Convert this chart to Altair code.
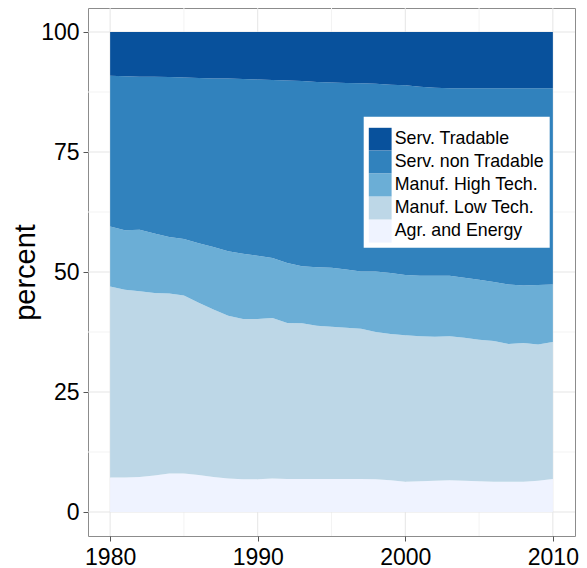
import altair as alt
import pandas as pd

years = list(range(1980, 2011))

agr = [7.2, 7.2, 7.3, 7.6, 8.0, 8.0, 7.7, 7.3, 7.0, 6.8, 6.8, 7.0, 6.9, 6.9, 6.9, 6.9,
       6.9, 6.9, 6.8, 6.6, 6.3, 6.4, 6.5, 6.6, 6.5, 6.4, 6.3, 6.3, 6.3, 6.5, 6.9]
low_tech = [39.8, 39.1, 38.7, 38.0, 37.5, 37.1, 35.9, 34.9, 33.9, 33.4, 33.4, 33.4, 32.5, 32.4, 31.9, 31.7,
            31.5, 31.3, 30.7, 30.5, 30.5, 30.2, 30.0, 30.0, 29.8, 29.5, 29.3, 28.7, 28.9, 28.4, 28.5]
high_tech = [12.5, 12.4, 12.8, 12.4, 11.8, 11.8, 12.4, 13.0, 13.4, 13.6, 13.2, 12.5, 12.5, 11.9, 12.2, 12.3,
             12.1, 11.9, 12.6, 12.7, 12.6, 12.6, 12.7, 12.6, 12.5, 12.5, 12.3, 12.4, 12.0, 12.4, 12.0]
serv_non_trad = [31.4, 32.1, 31.9, 32.7, 33.3, 33.6, 34.4, 35.1, 36.0, 36.4, 36.7, 37.1, 38.0, 38.6, 38.6, 38.6,
                 38.9, 39.2, 39.1, 39.2, 39.5, 39.4, 39.2, 39.1, 39.5, 39.9, 40.4, 40.9, 41.1, 41.0, 40.9]
serv_trad = [9.1, 9.2, 9.3, 9.3, 9.4, 9.5, 9.6, 9.7, 9.7, 9.8, 9.9, 10.0, 10.1, 10.2, 10.4, 10.5,
             10.6, 10.7, 10.8, 11.0, 11.1, 11.4, 11.6, 11.7, 11.7, 11.7, 11.7, 11.7, 11.7, 11.7, 11.7]

sectors = ["Serv. Tradable", "Serv. non Tradable", "Manuf. High Tech.", "Manuf. Low Tech.", "Agr. and Energy"]
colors = ["#08519c", "#3182bd", "#6baed6", "#bdd7e7", "#eff3ff"]

x_major = [1980, 1990, 2000, 2010]
x_minor = [1985, 1995, 2005]
y_major = [0, 25, 50, 75, 100]
y_minor = [12.5, 37.5, 62.5, 87.5]

series = {
    "Agr. and Energy": agr,
    "Manuf. Low Tech.": low_tech,
    "Manuf. High Tech.": high_tech,
    "Serv. non Tradable": serv_non_trad,
    "Serv. Tradable": serv_trad,
}
rows = []
for rank, (name, vals) in enumerate(series.items()):
    for yr, v in zip(years, vals):
        rows.append({"year": yr, "sector": name, "value": v, "rank": rank})
df = pd.DataFrame(rows)

FONT = "Liberation Sans"
xscale = alt.Scale(domain=[1978.5, 2011.5], nice=False, zero=False)
yscale = alt.Scale(domain=[-5, 105], nice=False, zero=False)

x_axis = alt.Axis(values=x_major, format="d", title=None, grid=False, domain=False,
                  tickColor="#555555", tickSize=5, labelPadding=5,
                  labelFontSize=23, labelFont=FONT, labelColor="black")
y_axis = alt.Axis(values=y_major, title="percent", grid=False, domain=False,
                  tickColor="#555555", tickSize=5, labelPadding=4,
                  labelFontSize=23, labelFont=FONT, labelColor="black",
                  titleFontSize=29, titleFont=FONT, titleFontWeight="normal",
                  titleColor="black", titlePadding=0)

def vgrid(vals, color):
    return alt.Chart(pd.DataFrame({"g": vals})).mark_rule(color=color, strokeWidth=1).encode(
        x=alt.X("g:Q", scale=xscale, axis=x_axis, title=None))

def hgrid(vals, color):
    return alt.Chart(pd.DataFrame({"g": vals})).mark_rule(color=color, strokeWidth=1).encode(
        y=alt.Y("g:Q", scale=yscale, axis=y_axis, title="percent"))

minor_c = "#f3f3f3"
major_c = "#e5e5e5"

area = alt.Chart(df).mark_area(opacity=1, interpolate="linear").encode(
    x=alt.X("year:Q", scale=xscale, axis=x_axis, title=None),
    y=alt.Y("value:Q", stack="zero", scale=yscale, axis=y_axis, title="percent"),
    color=alt.Color("sector:N", scale=alt.Scale(domain=sectors, range=colors),
                    legend=alt.Legend(orient="none", legendX=275.7, legendY=108.7,
                                      title=" ", titleFontSize=6, titlePadding=0,
                                      fillColor="white", padding=5,
                                      symbolType="square", symbolSize=520,
                                      symbolStrokeWidth=0, symbolOpacity=1,
                                      labelFontSize=17.8, labelFont=FONT, labelColor="black",
                                      labelOffset=3, rowPadding=0, labelLimit=300)),
    order=alt.Order("rank:Q", sort="ascending"),
)

chart = alt.layer(
    vgrid(x_minor, minor_c), hgrid(y_minor, minor_c),
    vgrid(x_major, major_c), hgrid(y_major, major_c),
    area,
).properties(
    width=487, height=528,
    autosize=alt.AutoSizeParams(type="none"),
    padding={"left": 80, "top": 0, "right": 4, "bottom": 32},
).configure_view(stroke="#8c8c8c", strokeWidth=1)

chart.save("out.html", embed_options={"renderer": "svg", "actions": False})
